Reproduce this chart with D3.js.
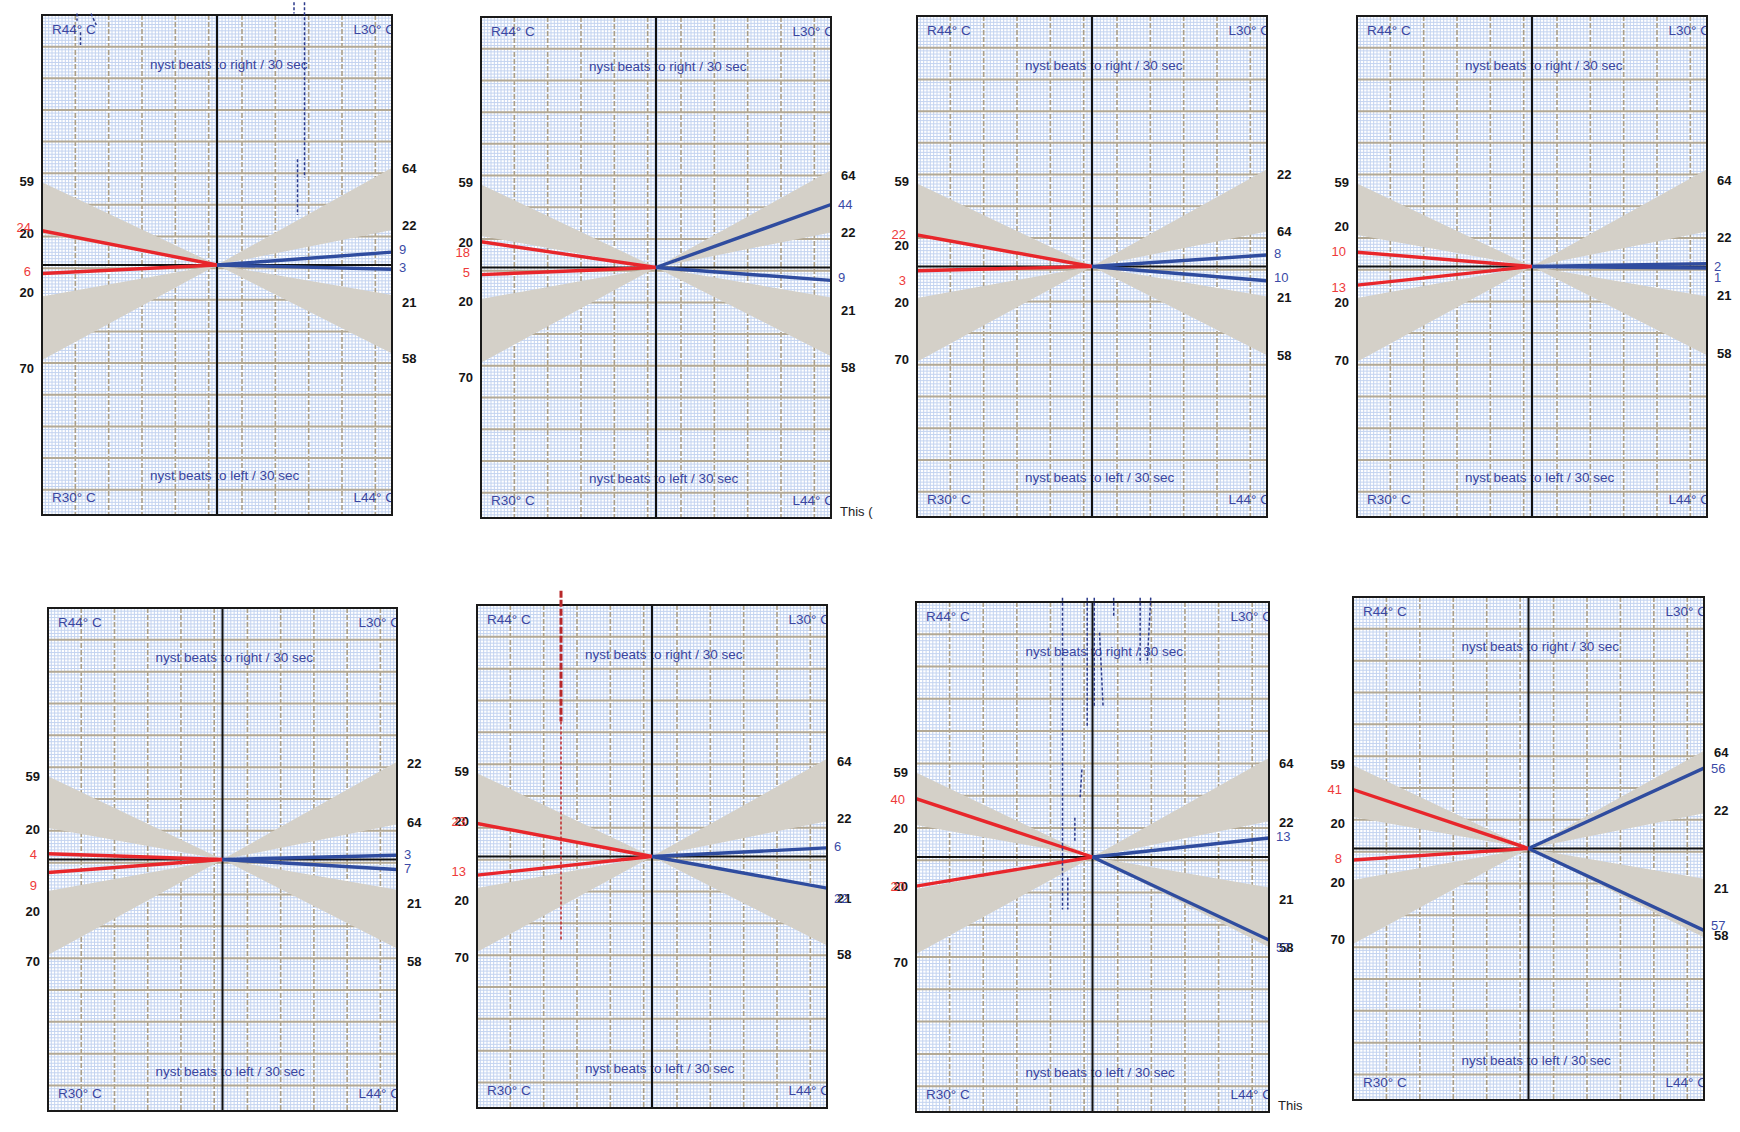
<!DOCTYPE html>
<html>
<head>
<meta charset="utf-8">
<script src="https://cdn.jsdelivr.net/npm/d3@7"></script>
<style>
  html, body { margin: 0; padding: 0; background: #fff; }
  svg { display: block; font-family: Arial, "Liberation Sans", sans-serif; }
</style>
</head>
<body>
<svg id="chart" width="1740" height="1132"></svg>
<script>
// caloric responses, nyst beats / 30 sec, one entry per test (8 tests)
const redUp = [24, 18, 22, 10, 4, 23, 40, 41];    // R44 warm -> beats right
const redDown = [6, 5, 3, 13, 9, 13, 20, 8];      // R30 cool -> beats left
const blueUp = [9, 44, 8, 2, 3, 6, 13, 56];       // L30 cool -> beats right
const blueDown = [3, 9, 10, 1, 7, 22, 57, 57];    // L44 warm -> beats left

// normal range wedges [inner, outer] in beats
const wedgeUpperLeft = [22, 58];
const wedgeLowerLeft = [22, 66.5];
const wedgeUpperRight = [24.5, 68];
const wedgeLowerRight = [21, 62];

// norm labels printed beside the wedges
const leftNormLabels = ['59', '20', '20', '70'];
const rightNormStd = ['64', '22', '21', '58'];
const rightNormAlt = ['22', '64', '21', '58'];
const rightNormByPanel = [rightNormStd, rightNormStd, rightNormAlt, rightNormStd,
                          rightNormAlt, rightNormStd, rightNormStd, rightNormStd];

// stray dashed tracings overlapping some panels: [xFrac, beats]
const traces = [
    { panel: 0, color: '#2b3a8c', w: 1.5, pts: [[0.50, 184], [0.50, 61]] },
    { panel: 0, color: '#2b3a8c', w: 1.5, pts: [[0.44, 184], [0.44, 176]] },
    { panel: 0, color: '#2b3a8c', w: 1.5, pts: [[0.46, 74], [0.46, 35]] },
    { panel: 0, color: '#2b3a8c', w: 1.5, pts: [[-0.80, 176], [-0.80, 171]] },
    { panel: 0, color: '#2b3a8c', w: 1.5, pts: [[-0.78, 163], [-0.78, 154]] },
    { panel: 0, color: '#2b3a8c', w: 1.5, pts: [[-0.72, 176], [-0.69, 168]] },
    { panel: 5, color: '#b8282a', w: 3, pts: [[-0.52, 185], [-0.52, 94]] },
    { panel: 5, color: '#c0282a', w: 1.5, pts: [[-0.52, 94], [-0.52, -58]] },
    { panel: 6, color: '#2b3a8c', w: 1.5, pts: [[-0.17, 178], [-0.17, -36]] },
    { panel: 6, color: '#2b3a8c', w: 1.5, pts: [[-0.14, -14], [-0.14, -36]] },
    { panel: 6, color: '#2b3a8c', w: 1.5, pts: [[-0.03, 178], [-0.03, 89]] },
    { panel: 6, color: '#2b3a8c', w: 1.5, pts: [[0.01, 178], [0.01, 103]] },
    { panel: 6, color: '#2b3a8c', w: 1.5, pts: [[0.04, 154], [0.06, 103]] },
    { panel: 6, color: '#2b3a8c', w: 1.5, pts: [[0.12, 178], [0.12, 165]] },
    { panel: 6, color: '#2b3a8c', w: 1.5, pts: [[0.27, 178], [0.27, 133]] },
    { panel: 6, color: '#2b3a8c', w: 1.5, pts: [[0.33, 178], [0.31, 133]] },
    { panel: 6, color: '#2b3a8c', w: 1.5, pts: [[-0.10, 27], [-0.10, 10]] },
    { panel: 6, color: '#2b3a8c', w: 1.5, pts: [[-0.06, 60], [-0.07, 41]] }
];

// layout: frame of each panel and label offsets (px from panel centre)
const panels = [
    { x: 42, y: 15, w: 350, h: 500 },
    { x: 481, y: 17, w: 350, h: 501 },
    { x: 917, y: 16, w: 350, h: 501 },
    { x: 1357, y: 16, w: 350, h: 501 },
    { x: 48, y: 608, w: 349, h: 503 },
    { x: 477, y: 605, w: 350, h: 503 },
    { x: 916, y: 602, w: 353, h: 510 },
    { x: 1353, y: 597, w: 351, h: 503 }
];
const leftLabelY = [[-84, -32, 27, 103], [-85, -25, 34, 110], [-85, -21, 36, 93], [-84, -40, 36, 94],
                    [-83, -30, 52, 102], [-85, -35, 44, 101], [-85, -29, 29, 105], [-84, -25, 34, 91]];
const rightLabelY = [[-97, -40, 37, 93], [-92, -35, 43, 100], [-92, -35, 31, 89], [-86, -29, 29, 87],
                     [-96, -37, 44, 102], [-95, -38, 42, 98], [-94, -35, 42, 90], [-96, -38, 40, 87]];
const redLabelY = [[-38, 6], [-15, 5], [-32, 14], [-15, 21], [-5, 26], [-35, 15], [-58, 29], [-59, 10]];
const blueLabelY = [[-16, 2], [-63, 10], [-13, 11], [0, 11], [-5, 9], [-10, 42], [-21, 90], [-80, 77]];
const trailingNotes = [{ panel: 1, text: 'This (' }, { panel: 6, text: 'This' }];

const RED = '#e8262b';
const BLUE = '#2f4c9f';
const TEXT_BLUE = '#3a46a0';
const svg = d3.select('#chart');
const defs = svg.append('defs');

panels.forEach((p, i) => drawPanel(p, i));

function drawPanel(p, i) {
    const x = d3.scaleLinear().domain([-1, 1]).range([p.x, p.x + p.w]);
    const y = d3.scaleLinear().domain([-175, 175]).range([p.y + p.h, p.y]);
    const gx = d3.scaleLinear().domain([0, 10.5]).range([p.x, p.x + p.w]);
    const gy = d3.scaleLinear().domain([0, 15.8]).range([p.y, p.y + p.h]);
    const cx = x(0), cy = y(0);

    defs.append('clipPath').attr('id', 'clip' + i)
        .append('rect').attr('x', p.x).attr('y', p.y).attr('width', p.w).attr('height', p.h);

    const g = svg.append('g');
    const inner = g.append('g').attr('clip-path', `url(#clip${i})`);

    // minor grid
    const minorX = d3.range(1, 105).filter(k => k % 10 !== 0).map(k => k / 10);
    const minorY = d3.range(1, 158).filter(k => k % 10 !== 0).map(k => k / 10);
    const minor = inner.append('g').attr('stroke', '#c3d3f0').attr('stroke-width', 1);
    minor.selectAll('.mx').data(minorX).enter().append('line')
        .attr('x1', d => gx(d)).attr('x2', d => gx(d))
        .attr('y1', p.y).attr('y2', p.y + p.h);
    minor.selectAll('.my').data(minorY).enter().append('line')
        .attr('y1', d => gy(d)).attr('y2', d => gy(d))
        .attr('x1', p.x).attr('x2', p.x + p.w);

    // major grid
    inner.append('g').selectAll('line').data(d3.range(1, 11)).enter().append('line')
        .attr('x1', d => gx(d)).attr('x2', d => gx(d))
        .attr('y1', p.y).attr('y2', p.y + p.h)
        .attr('stroke', '#aa9f8a').attr('stroke-width', 1.6)
        .attr('stroke-dasharray', '5 2');
    inner.append('g').selectAll('line').data(d3.range(1, 16)).enter().append('line')
        .attr('y1', d => gy(d)).attr('y2', d => gy(d))
        .attr('x1', p.x).attr('x2', p.x + p.w)
        .attr('stroke', '#b3a995').attr('stroke-width', 2);

    // normal range wedges
    const wedges = [
        [[0, 0], [-1, wedgeUpperLeft[0]], [-1, wedgeUpperLeft[1]]],
        [[0, 0], [-1, -wedgeLowerLeft[0]], [-1, -wedgeLowerLeft[1]]],
        [[0, 0], [1, wedgeUpperRight[0]], [1, wedgeUpperRight[1]]],
        [[0, 0], [1, -wedgeLowerRight[0]], [1, -wedgeLowerRight[1]]]
    ];
    inner.append('g').selectAll('polygon').data(wedges).enter().append('polygon')
        .attr('points', d => d.map(q => [x(q[0]), y(q[1])].join(',')).join(' '))
        .attr('fill', '#d4d0c8');

    // text inside the frame
    const t = inner.append('g').attr('fill', TEXT_BLUE).attr('font-size', 13.5);
    t.append('text').attr('x', p.x + 10).attr('y', p.y + 14).attr('dy', '0.35em').text('R44° C');
    t.append('text').attr('x', p.x + p.w + 3).attr('y', p.y + 14).attr('dy', '0.35em')
        .attr('text-anchor', 'end').text('L30° C');
    t.append('text').attr('x', cx - 67).attr('y', p.y + 49).attr('dy', '0.35em')
        .text('nyst beats to right / 30 sec');
    t.append('text').attr('x', cx - 67).attr('y', p.y + p.h - 40).attr('dy', '0.35em')
        .text('nyst beats to left / 30 sec');
    t.append('text').attr('x', p.x + 10).attr('y', p.y + p.h - 18).attr('dy', '0.35em').text('R30° C');
    t.append('text').attr('x', p.x + p.w + 3).attr('y', p.y + p.h - 18).attr('dy', '0.35em')
        .attr('text-anchor', 'end').text('L44° C');

    // axes through the centre
    inner.append('line').attr('x1', p.x).attr('x2', p.x + p.w).attr('y1', cy).attr('y2', cy)
        .attr('stroke', '#111').attr('stroke-width', 2);
    inner.append('line').attr('x1', cx).attr('x2', cx).attr('y1', p.y).attr('y2', p.y + p.h)
        .attr('stroke', '#111').attr('stroke-width', 2);

    // response lines
    const line = d3.line().x(d => x(d[0])).y(d => y(d[1]));
    const responses = [
        { pts: [[0, 0], [-1, redUp[i]]], color: RED },
        { pts: [[0, 0], [-1, -redDown[i]]], color: RED },
        { pts: [[0, 0], [1, blueUp[i]]], color: BLUE },
        { pts: [[0, 0], [1, -blueDown[i]]], color: BLUE }
    ];
    inner.append('g').selectAll('path').data(responses).enter().append('path')
        .attr('d', d => line(d.pts))
        .attr('fill', 'none')
        .attr('stroke', d => d.color)
        .attr('stroke-width', 3.4);

    // frame
    g.append('rect').attr('x', p.x).attr('y', p.y).attr('width', p.w).attr('height', p.h)
        .attr('fill', 'none').attr('stroke', '#1a1a1a').attr('stroke-width', 2);

    // stray tracings
    g.append('g').selectAll('path').data(traces.filter(d => d.panel === i)).enter().append('path')
        .attr('d', d => line(d.pts))
        .attr('fill', 'none')
        .attr('stroke', d => d.color)
        .attr('stroke-width', d => d.w)
        .attr('stroke-dasharray', d => d.w > 2 ? '7 2' : '3 2');

    // outside labels
    const lab = g.append('g').attr('font-size', 13).attr('font-weight', 'bold');
    lab.selectAll('.ln').data(leftNormLabels).enter().append('text')
        .attr('x', p.x - 8).attr('y', (d, k) => cy + leftLabelY[i][k]).attr('dy', '0.35em')
        .attr('text-anchor', 'end').attr('fill', '#151515').text(d => d);
    lab.selectAll('.rn').data(rightNormByPanel[i]).enter().append('text')
        .attr('x', p.x + p.w + 10).attr('y', (d, k) => cy + rightLabelY[i][k]).attr('dy', '0.35em')
        .attr('fill', '#151515').text(d => d);
    lab.selectAll('.rv').data([redUp[i], redDown[i]]).enter().append('text')
        .attr('x', p.x - 11).attr('y', (d, k) => cy + redLabelY[i][k]).attr('dy', '0.35em')
        .attr('text-anchor', 'end').attr('fill', '#ee3a3a').attr('font-weight', 'normal').text(d => d);
    lab.selectAll('.bv').data([blueUp[i], blueDown[i]]).enter().append('text')
        .attr('x', p.x + p.w + 7).attr('y', (d, k) => cy + blueLabelY[i][k]).attr('dy', '0.35em')
        .attr('fill', '#3a4aa6').attr('font-weight', 'normal').text(d => d);

    trailingNotes.filter(d => d.panel === i).forEach(d => {
        g.append('text').attr('x', p.x + p.w + 9).attr('y', p.y + p.h - 7).attr('dy', '0.35em')
            .attr('font-size', 13).attr('fill', '#222').text(d.text);
    });
}
</script>
</body>
</html>
